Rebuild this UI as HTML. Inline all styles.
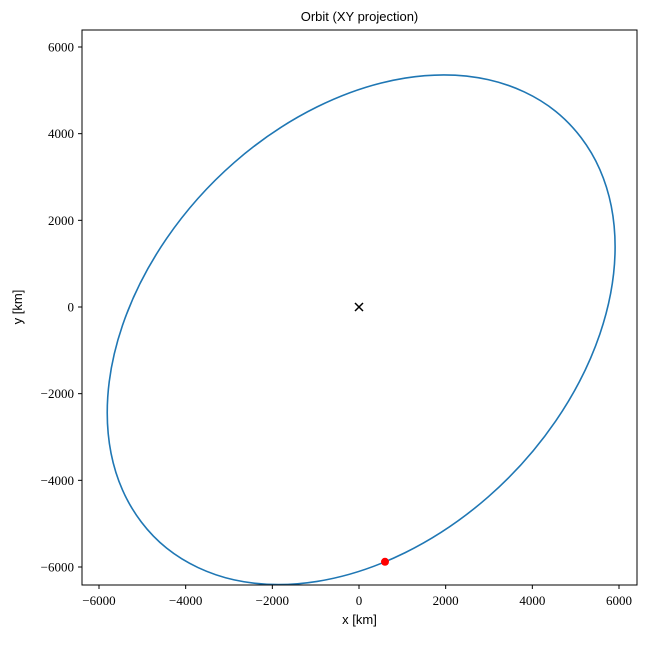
<!DOCTYPE html>
<html><head><meta charset="utf-8"><style>
body{margin:0;background:#fff;}
svg text{fill:#000;}
.tick{font-family:"Liberation Serif",serif;font-size:13px;}
.lab{font-family:"Liberation Sans",sans-serif;font-size:13px;}
</style></head><body>
<svg id="chart" width="654" height="640" xmlns="http://www.w3.org/2000/svg">
<rect x="0" y="0" width="654" height="640" fill="#fff"/>
<g id="orbit-layer"></g>
<rect x="82" y="30" width="555" height="555" fill="none" stroke="#000" stroke-width="1"/>
<g id="ticks"></g>
<text class="lab" x="359.5" y="21" text-anchor="middle" font-size="15">Orbit (XY projection)</text>
<text class="lab" x="359.5" y="624" text-anchor="middle">x [km]</text>
<text class="lab" transform="translate(22,307) rotate(-90)" text-anchor="middle">y [km]</text>
</svg>
<script>
const orbitX=[5910,5557,4539,2980,1067,-967,-2880,-4439,-5457,-5810,-5457,-4439,-2880,-967,1067,2980,4539,5557];
const orbitY=[1389,3175,4515,5247,5283,4618,3333,1582,-422,-2439,-4225,-5565,-6297,-6333,-5668,-4383,-2632,-628];
const centerPoint=[0,0];
const currentPoint=[600,-5880];
const xTicks=[-6000,-4000,-2000,0,2000,4000,6000];
const yTicks=[-6000,-4000,-2000,0,2000,4000,6000];

const k=260/6000;
const sx=v=>359+v*k;
const sy=v=>307-v*k;
const NS='http://www.w3.org/2000/svg';
const layer=document.getElementById('orbit-layer');
const tg=document.getElementById('ticks');
function fmt(v){return v<0?'\u2212'+Math.abs(v):String(v);}

// closed Catmull-Rom
const P=orbitX.map((x,i)=>[sx(x),sy(orbitY[i])]);
const n=P.length;
let d='M'+P[0][0]+','+P[0][1];
for(let i=0;i<n;i++){
  const p0=P[(i-1+n)%n],p1=P[i],p2=P[(i+1)%n],p3=P[(i+2)%n];
  const c1=[p1[0]+(p2[0]-p0[0])/6,p1[1]+(p2[1]-p0[1])/6];
  const c2=[p2[0]-(p3[0]-p1[0])/6,p2[1]-(p3[1]-p1[1])/6];
  d+=` C${c1[0]},${c1[1]} ${c2[0]},${c2[1]} ${p2[0]},${p2[1]}`;
}
const path=document.createElementNS(NS,'path');
path.setAttribute('d',d);path.setAttribute('fill','none');
path.setAttribute('stroke','#1f77b4');path.setAttribute('stroke-width','1.6');


layer.appendChild(path);

const cx=sx(centerPoint[0]),cy=sy(centerPoint[1]);
const cross=document.createElementNS(NS,'path');
cross.setAttribute('d',`M${cx-4},${cy-4}L${cx+4},${cy+4}M${cx-4},${cy+4}L${cx+4},${cy-4}`);
cross.setAttribute('stroke','#000');cross.setAttribute('stroke-width','1.5');


layer.appendChild(cross);

const dot=document.createElementNS(NS,'circle');
dot.setAttribute('cx',sx(currentPoint[0]));dot.setAttribute('cy',sy(currentPoint[1]));
dot.setAttribute('r','4');dot.setAttribute('fill','#ff0000');


layer.appendChild(dot);

xTicks.forEach(v=>{
  const x=sx(v);
  const l=document.createElementNS(NS,'line');
  l.setAttribute('x1',x);l.setAttribute('x2',x);l.setAttribute('y1',585);l.setAttribute('y2',589);
  l.setAttribute('stroke','#000');
  
  
  tg.appendChild(l);
  const t=document.createElementNS(NS,'text');
  t.setAttribute('x',x);t.setAttribute('y',605);t.setAttribute('text-anchor','middle');
  t.setAttribute('class','tick');t.textContent=fmt(v);
  
  
  tg.appendChild(t);
});
yTicks.forEach(v=>{
  const y=sy(v);
  const l=document.createElementNS(NS,'line');
  l.setAttribute('x1',78);l.setAttribute('x2',82);l.setAttribute('y1',y);l.setAttribute('y2',y);
  l.setAttribute('stroke','#000');
  
  
  tg.appendChild(l);
  const t=document.createElementNS(NS,'text');
  t.setAttribute('x',74);t.setAttribute('y',y+4.5);t.setAttribute('text-anchor','end');
  t.setAttribute('class','tick');t.textContent=fmt(v);
  
  
  tg.appendChild(t);
});
</script>
</body></html>
